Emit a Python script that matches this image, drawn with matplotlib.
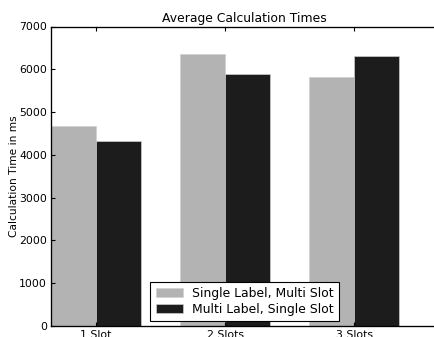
import matplotlib
matplotlib.use("Agg")
import matplotlib.pyplot as plt
import numpy as np

categories = ["1 Slot", "2 Slots", "3 Slots"]
single_label_multi_slot = [4670, 6355, 5825]
multi_label_single_slot = [4335, 5895, 6310]
series_names = ["Single Label, Multi Slot", "Multi Label, Single Slot"]

plt.rcParams['font.family'] = ['DejaVu Sans']
dpi = 80
fig = plt.figure(figsize=(434 / dpi, 337 / dpi), dpi=dpi)
ax = fig.add_axes([51 / 434, 11 / 337, 387 / 434, 299.5 / 337])

ind = np.arange(len(categories))
width = 0.35
ax.bar(ind, single_label_multi_slot, width, align='edge', color='#b3b3b3',
       edgecolor='#d0d0d0', linewidth=0.6, label=series_names[0])
ax.bar(ind + width, multi_label_single_slot, width, align='edge', color='#1c1c1c',
       edgecolor='#d0d0d0', linewidth=0.6, label=series_names[1])

ax.set_xlim(0, 3)
ax.set_ylim(0, 7000)
ax.set_xticks(ind + width)
ax.set_xticklabels(categories, fontsize=9.8)
ax.set_yticks(np.arange(0, 7001, 1000))
ax.tick_params(axis='y', labelsize=9.8)
ax.tick_params(direction='in', length=4, top=True, right=False, width=1)
ax.spines['right'].set_visible(False)
for s in ax.spines.values():
    s.set_linewidth(1.2)

ax.set_ylabel("Calculation Time in ms", fontsize=9.6, labelpad=0.5)
ax.set_title("Average Calculation Times", fontsize=11.2, pad=4)

leg = ax.legend(loc='lower center', borderaxespad=0.4,
                fontsize=11.2, fancybox=False, framealpha=1, edgecolor='black',
                handlelength=2.2, handleheight=0.72, handletextpad=0.72,
                borderpad=0.43, labelspacing=0.2)
leg.get_frame().set_linewidth(1.0)

fig.savefig("out.png", dpi=dpi)
